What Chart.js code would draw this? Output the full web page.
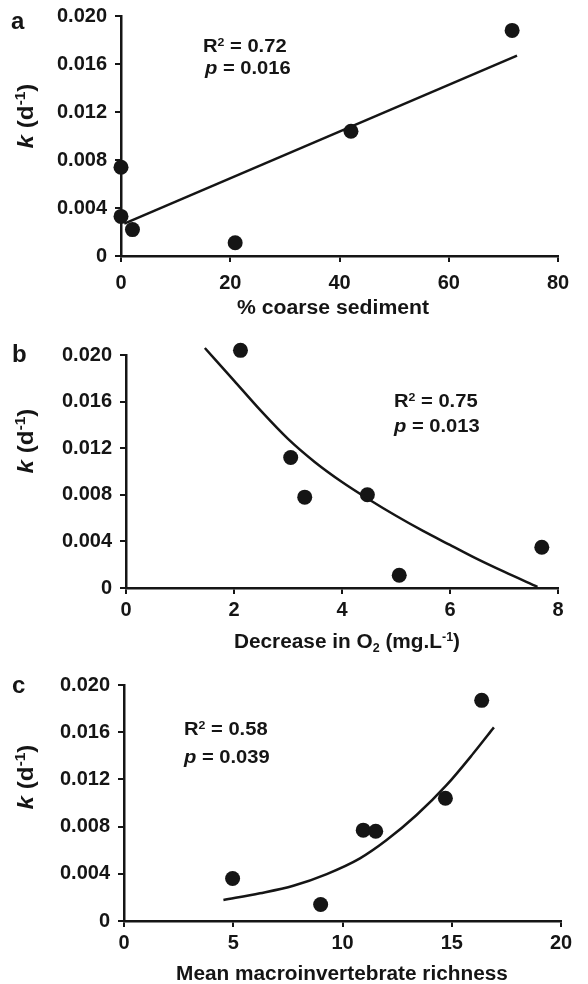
<!DOCTYPE html>
<html>
<head>
<meta charset="utf-8">
<script src="https://cdn.jsdelivr.net/npm/chart.js@4.4.1/dist/chart.umd.min.js"></script>
<style>
html, body { margin: 0; padding: 0; background: #fff; }
#wrap { position: relative; width: 588px; height: 984px; overflow: hidden; }
.panel { position: absolute; left: 0; width: 588px; }
</style>
</head>
<body>
<div id="wrap">
  <div class="panel" style="top:-4px;height:324px"><canvas id="chartA"></canvas></div>
  <div class="panel" style="top:320px;height:340px"><canvas id="chartB"></canvas></div>
  <div class="panel" style="top:660px;height:324px"><canvas id="chartC"></canvas></div>
</div>
<script>
// panel a - % coarse sediment
var sedX = [0, 0, 2.1, 20.9, 42.1, 71.6];
var sedK = [0.0074, 0.0033, 0.0022, 0.0011, 0.0104, 0.0188];
var sedFitX = [0.6, 72.5];
var sedFitK = [0.0027, 0.0167];

// panel b - decrease in O2
var o2X = [2.12, 3.05, 3.31, 4.47, 5.06, 7.70];
var o2K = [0.0204, 0.0112, 0.0078, 0.0080, 0.0011, 0.0035];
var o2FitX = [1.46, 2.0, 2.5, 3.0, 3.5, 4.0, 4.5, 5.0, 5.5, 6.0, 6.5, 7.0, 7.62];
var o2FitK = [0.0206, 0.0178, 0.0152, 0.0128, 0.0108, 0.0091, 0.0076, 0.0062, 0.0049, 0.0037, 0.0025, 0.0014, 0.0001];

// panel c - macroinvertebrate richness
var richX = [4.97, 9.0, 10.95, 11.52, 14.71, 16.37];
var richK = [0.0036, 0.0014, 0.0077, 0.0076, 0.0104, 0.0187];
var richFitX = [4.55, 6.22, 7.75, 9.28, 10.8, 12.02, 13.39, 14.77, 15.99, 16.93];
var richFitK = [0.00178, 0.00235, 0.00299, 0.00398, 0.00531, 0.00686, 0.00898, 0.01153, 0.01421, 0.01641];

// axes
var kTicks = [0, 0.004, 0.008, 0.012, 0.016, 0.020];
var sedTicks = [0, 20, 40, 60, 80];
var o2Ticks = [0, 2, 4, 6, 8];
var richTicks = [0, 5, 10, 15, 20];

var INK = '#151515';
var FONT = '"Liberation Sans", Arial, Helvetica, sans-serif';

function pairs(xs, ys) {
    return xs.map(function (x, i) { return { x: x, y: ys[i] }; });
}

function partFont(p, size) {
    var s = (p.sup || p.sub) ? Math.round(size * 0.62) : size;
    return (p.italic ? 'italic ' : '') + 'bold ' + s + 'px ' + FONT;
}

// draws a run of text with italic / superscript / subscript parts
function drawRich(ctx, it) {
    ctx.save();
    ctx.translate(it.x, it.y);
    if (it.rotate) ctx.rotate(-Math.PI / 2);
    ctx.scale(it.stretch || 1, 1);
    ctx.fillStyle = INK;
    ctx.textBaseline = 'alphabetic';
    ctx.textAlign = 'left';
    var w = 0;
    it.parts.forEach(function (p) {
        ctx.font = partFont(p, it.size);
        w += ctx.measureText(p.t).width;
    });
    var x = it.align === 'center' ? -w / 2 : 0;
    it.parts.forEach(function (p) {
        ctx.font = partFont(p, it.size);
        var dy = p.sup ? -it.size * 0.36 : (p.sub ? it.size * 0.2 : 0);
        ctx.fillText(p.t, x, dy);
        x += ctx.measureText(p.t).width;
    });
    ctx.restore();
}

function textPlugin(items) {
    return {
        id: 'richText',
        afterDraw: function (chart) {
            items.forEach(function (it) { drawRich(chart.ctx, it); });
        }
    };
}

function kTitle(baseX, centerY) {
    return {
        x: baseX, y: centerY, rotate: true, align: 'center', size: 22, stretch: 1.1,
        parts: [{ t: 'k', italic: true }, { t: ' (d' }, { t: '-1', sup: true }, { t: ')' }]
    };
}

function makeChart(id, cfg) {
    var tickFont = { family: FONT, size: 20, weight: 'bold' };
    var ctx = document.getElementById(id).getContext('2d');
    return new Chart(ctx, {
        type: 'scatter',
        data: {
            datasets: [{
                data: pairs(cfg.fitX, cfg.fitK),
                showLine: true,
                borderColor: INK,
                borderWidth: 2.5,
                pointRadius: 0,
                tension: cfg.curved ? 0.4 : 0,
                cubicInterpolationMode: cfg.curved ? 'monotone' : 'default',
                fill: false,
                clip: false
            }, {
                data: pairs(cfg.xs, cfg.ys),
                showLine: false,
                pointRadius: 7.5,
                pointBackgroundColor: INK,
                pointBorderWidth: 0,
                clip: false
            }]
        },
        options: {
            responsive: true,
            maintainAspectRatio: false,
            animation: false,
            events: [],
            layout: { padding: { left: 0, top: cfg.top, right: cfg.right, bottom: 0 } },
            plugins: { legend: { display: false }, tooltip: { enabled: false } },
            scales: {
                x: {
                    type: 'linear',
                    min: cfg.xTicks[0],
                    max: cfg.xTicks[cfg.xTicks.length - 1],
                    afterBuildTicks: function (scale) {
                        scale.ticks = cfg.xTicks.map(function (v) { return { value: v }; });
                    },
                    ticks: { font: tickFont, color: INK, padding: cfg.xPad, maxRotation: 0 },
                    grid: { drawOnChartArea: false, drawTicks: true, tickLength: 6, lineWidth: 2, color: INK },
                    border: { display: true, color: INK, width: 2.5 },
                    afterFit: function (scale) { scale.height = cfg.xHeight; }
                },
                y: {
                    type: 'linear',
                    min: 0,
                    max: 0.020,
                    afterBuildTicks: function (scale) {
                        scale.ticks = kTicks.map(function (v) { return { value: v }; });
                    },
                    ticks: {
                        font: tickFont, color: INK, padding: 8,
                        callback: function (v) { return v === 0 ? '0' : Number(v).toFixed(3); }
                    },
                    grid: { drawOnChartArea: false, drawTicks: true, tickLength: 6, lineWidth: 2, color: INK },
                    border: { display: true, color: INK, width: 2.5 },
                    afterFit: function (scale) { scale.width = cfg.yWidth; }
                }
            }
        },
        plugins: [textPlugin(cfg.texts)]
    });
}

makeChart('chartA', {
    xs: sedX, ys: sedK, fitX: sedFitX, fitK: sedFitK, curved: false,
    xTicks: sedTicks, top: 19, right: 30, yWidth: 121, xHeight: 64, xPad: 9,
    texts: [
        { x: 11, y: 33, size: 24, parts: [{ t: 'a' }] },
        kTitle(33, 120),
        { x: 203, y: 56, size: 18, stretch: 1.12, parts: [{ t: 'R' }, { t: '2', sup: true }, { t: ' = 0.72' }] },
        { x: 205, y: 78, size: 18, stretch: 1.12, parts: [{ t: 'p', italic: true }, { t: ' = 0.016' }] },
        { x: 333, y: 318, size: 20, stretch: 1.06, align: 'center', parts: [{ t: '% coarse sediment' }] }
    ]
});

makeChart('chartB', {
    xs: o2X, ys: o2K, fitX: o2FitX, fitK: o2FitK, curved: true,
    xTicks: o2Ticks, top: 35, right: 30, yWidth: 126, xHeight: 72, xPad: 4,
    texts: [
        { x: 12, y: 42, size: 24, parts: [{ t: 'b' }] },
        kTitle(33, 121),
        { x: 394, y: 87, size: 18, stretch: 1.12, parts: [{ t: 'R' }, { t: '2', sup: true }, { t: ' = 0.75' }] },
        { x: 394, y: 112, size: 18, stretch: 1.12, parts: [{ t: 'p', italic: true }, { t: ' = 0.013' }] },
        { x: 347, y: 328, size: 20, stretch: 1.04, align: 'center',
          parts: [{ t: 'Decrease in O' }, { t: '2', sub: true }, { t: ' (mg.L' }, { t: '-1', sup: true }, { t: ')' }] }
    ]
});

makeChart('chartC', {
    xs: richX, ys: richK, fitX: richFitX, fitK: richFitK, curved: true,
    xTicks: richTicks, top: 25, right: 27, yWidth: 124, xHeight: 63, xPad: 4,
    texts: [
        { x: 12, y: 33, size: 24, parts: [{ t: 'c' }] },
        kTitle(33, 117),
        { x: 184, y: 75, size: 18, stretch: 1.12, parts: [{ t: 'R' }, { t: '2', sup: true }, { t: ' = 0.58' }] },
        { x: 184, y: 103, size: 18, stretch: 1.12, parts: [{ t: 'p', italic: true }, { t: ' = 0.039' }] },
        { x: 342, y: 320, size: 20, stretch: 1.04, align: 'center', parts: [{ t: 'Mean macroinvertebrate richness' }] }
    ]
});
</script>
</body>
</html>
